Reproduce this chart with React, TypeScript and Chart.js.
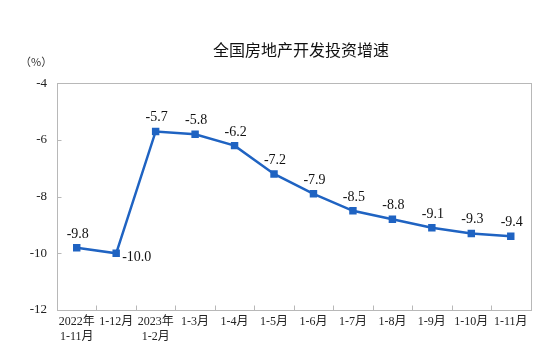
import React, { useEffect, useRef } from "react";
import { Chart, registerables } from "chart.js";

Chart.register(...registerables);

const TITLE = "全国房地产开发投资增速";
const UNIT = "（%）";
const categories: (string | string[])[] = [
  ["2022年", "1-11月"],
  "1-12月",
  ["2023年", "1-2月"],
  "1-3月",
  "1-4月",
  "1-5月",
  "1-6月",
  "1-7月",
  "1-8月",
  "1-9月",
  "1-10月",
  "1-11月",
];
const growth = [-9.8, -10.0, -5.7, -5.8, -6.2, -7.2, -7.9, -8.5, -8.8, -9.1, -9.3, -9.4];
const yMin = -12;
const yMax = -4;
const yStep = 2;

const SERIF = "'Liberation Serif', 'Noto Sans CJK SC', serif";
const LINE = "#1f63c2";
const FRAME = "#b8b8b8";

const decorPlugin = {
  id: "decor",
  afterDraw(chart: any) {
    const { ctx, chartArea } = chart;
    const xs = chart.scales.x;
    const ys = chart.scales.y;
    ctx.save();
    ctx.strokeStyle = FRAME;
    ctx.lineWidth = 1;
    const l = Math.round(chartArea.left) + 0.5;
    const r = Math.round(chartArea.right) + 0.5;
    const t = Math.round(chartArea.top) + 0.5;
    const b = Math.round(chartArea.bottom) + 0.5;
    ctx.strokeRect(l, t, r - l, b - t);
    ctx.beginPath();
    for (let i = 1; i < categories.length; i++) {
      const x = Math.round(xs.getPixelForValue(i - 0.5)) + 0.5;
      ctx.moveTo(x, b);
      ctx.lineTo(x, b - 5);
    }
    for (let v = yMin + yStep; v < yMax; v += yStep) {
      const y = Math.round(ys.getPixelForValue(v)) + 0.5;
      ctx.moveTo(l, y);
      ctx.lineTo(l + 4, y);
    }
    ctx.stroke();
    ctx.fillStyle = "#111";
    ctx.font = "16px 'Noto Sans CJK SC', sans-serif";
    ctx.textAlign = "center";
    ctx.textBaseline = "middle";
    ctx.fillText(TITLE, 301, 50);
    ctx.font = "11px 'Noto Sans CJK SC', sans-serif";
    ctx.textAlign = "left";
    ctx.fillStyle = "#333";
    ctx.fillText(UNIT, 20, 62);
    const meta = chart.getDatasetMeta(0);
    ctx.font = "14px " + SERIF;
    ctx.fillStyle = "#111";
    meta.data.forEach((pt: any, i: number) => {
      const label = growth[i].toFixed(1);
      if (i === 1) {
        ctx.textAlign = "left";
        ctx.textBaseline = "middle";
        ctx.fillText(label, pt.x + 6, pt.y + 4);
      } else {
        ctx.textAlign = "center";
        ctx.textBaseline = "alphabetic";
        ctx.fillText(label, pt.x + 1, pt.y - 10);
      }
    });
    ctx.restore();
  },
};

export default function App() {
  const ref = useRef<HTMLCanvasElement | null>(null);
  useEffect(() => {
    if (!ref.current) return;
    const chart = new Chart(ref.current, {
      type: "line",
      data: {
        labels: categories as any,
        datasets: [
          {
            data: growth,
            borderColor: LINE,
            backgroundColor: LINE,
            borderWidth: 2.5,
            pointStyle: "rect",
            pointRadius: 3.5,
            pointBackgroundColor: LINE,
            pointBorderColor: LINE,
            tension: 0,
          },
        ],
      },
      options: {
        responsive: false,
        animation: false,
        layout: { padding: { left: 0, right: 29.5, top: 83.3, bottom: 0 } },
        plugins: { legend: { display: false }, title: { display: false }, tooltip: { enabled: false } },
        scales: {
          x: {
            offset: true,
            grid: { display: false, drawTicks: false },
            border: { display: false },
            ticks: {
              color: "#222",
              font: { family: SERIF, size: 12 },
              padding: 5,
              maxRotation: 0,
              autoSkip: false,
            },
            afterFit(scale: any) {
              scale.height = 46;
            },
          },
          y: {
            min: yMin,
            max: yMax,
            grid: { display: false, drawTicks: false },
            border: { display: false },
            ticks: {
              stepSize: yStep,
              color: "#222",
              font: { family: SERIF, size: 13 },
              padding: 10,
            },
            afterFit(scale: any) {
              scale.width = 57;
            },
          },
        },
      },
      plugins: [decorPlugin],
    });
    return () => chart.destroy();
  }, []);
  return (
    <div style={{ position: "fixed", left: 0, top: 0, width: 560, height: 356, background: "#fff" }}>
      <canvas ref={ref} width={560} height={356} style={{ display: "block" }} />
    </div>
  );
}
